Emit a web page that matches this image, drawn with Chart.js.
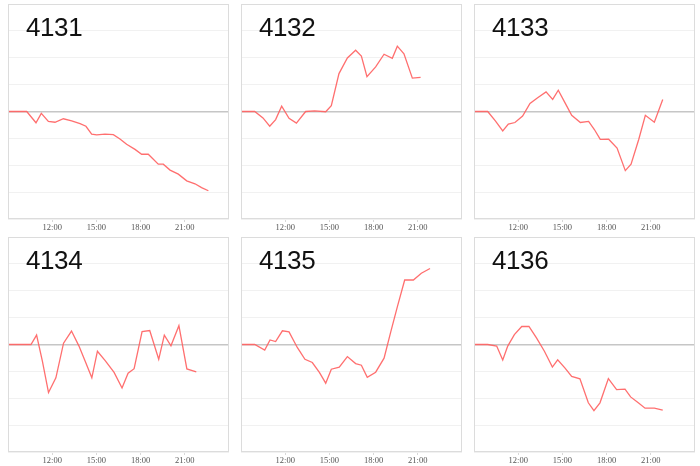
<!DOCTYPE html>
<html>
<head>
<meta charset="utf-8">
<script src="https://cdn.jsdelivr.net/npm/chart.js@4.4.0/dist/chart.umd.min.js"></script>
<style>
  body { margin: 0; background: #fff; }
  #wrap { position: relative; width: 700px; height: 466px; }
  .cell { position: absolute; width: 233px; height: 233px; }
  .cell canvas { position: absolute; left: 0; top: 0; }
  .ttl { position: absolute; left: 26px; top: 12px; font: 26px "Liberation Sans", Arial, sans-serif; letter-spacing: -0.4px; color: #111; pointer-events: none; }
</style>
</head>
<body>
<div id="wrap"></div>
<script>
// panel names
const codes = ['4131', '4132', '4133', '4134', '4135', '4136'];

// hour of day for each reading, and the reading
const t4131 = [9.0, 10.27, 10.9, 11.26, 11.74, 12.19, 12.76, 13.32, 13.89, 14.29, 14.68, 15.02, 15.58, 16.15, 16.6, 17.05, 17.62, 18.07, 18.52, 19.2, 19.54, 20.0, 20.56, 21.13, 21.69, 22.14, 22.6];
const v4131 = [0, 0, -0.42, -0.07, -0.37, -0.4, -0.27, -0.35, -0.45, -0.55, -0.84, -0.87, -0.84, -0.86, -1.02, -1.22, -1.41, -1.59, -1.59, -1.96, -1.96, -2.18, -2.33, -2.58, -2.69, -2.83, -2.95];

const t4132 = [9.0, 9.93, 10.49, 10.95, 11.35, 11.76, 12.26, 12.76, 13.39, 14.0, 14.75, 15.13, 15.65, 16.22, 16.78, 17.17, 17.55, 18.14, 18.71, 19.27, 19.61, 20.06, 20.63, 21.19];
const v4132 = [0, 0, -0.24, -0.55, -0.3, 0.2, -0.25, -0.43, 0, 0.02, -0.01, 0.22, 1.41, 1.99, 2.28, 2.06, 1.3, 1.66, 2.13, 1.98, 2.43, 2.15, 1.24, 1.27];

const t4133 = [9.0, 9.93, 10.45, 10.95, 11.33, 11.78, 12.3, 12.8, 13.32, 13.89, 14.34, 14.72, 15.18, 15.63, 16.22, 16.78, 17.17, 17.57, 18.14, 18.71, 19.27, 19.66, 20.18, 20.63, 21.24, 21.81];
const v4133 = [0, 0, -0.35, -0.72, -0.47, -0.41, -0.17, 0.3, 0.51, 0.73, 0.45, 0.79, 0.32, -0.14, -0.41, -0.37, -0.67, -1.04, -1.03, -1.36, -2.2, -1.96, -1.04, -0.14, -0.4, 0.45];

const t4134 = [9.0, 10.56, 10.94, 11.33, 11.75, 12.25, 12.77, 13.31, 13.81, 14.26, 14.69, 15.07, 15.61, 16.2, 16.74, 17.15, 17.56, 18.1, 18.62, 19.23, 19.61, 20.06, 20.6, 21.14, 21.78];
const v4134 = [0, 0, 0.35, -0.61, -1.79, -1.24, 0.05, 0.5, -0.05, -0.65, -1.24, -0.25, -0.61, -1.04, -1.62, -1.07, -0.9, 0.48, 0.52, -0.55, 0.35, -0.05, 0.7, -0.91, -1.02];

const t4135 = [9.0, 9.93, 10.61, 10.97, 11.35, 11.81, 12.26, 12.82, 13.34, 13.84, 14.32, 14.75, 15.13, 15.67, 16.22, 16.78, 17.17, 17.57, 18.14, 18.71, 19.16, 19.61, 20.11, 20.7, 21.24, 21.83];
const v4135 = [0, 0, -0.21, 0.17, 0.11, 0.51, 0.47, -0.11, -0.55, -0.67, -1.04, -1.44, -0.92, -0.84, -0.45, -0.71, -0.77, -1.22, -1.03, -0.51, 0.46, 1.4, 2.4, 2.4, 2.65, 2.83];

const t4136 = [9.0, 9.93, 10.54, 10.95, 11.29, 11.74, 12.24, 12.73, 13.25, 13.77, 14.32, 14.68, 15.18, 15.63, 16.19, 16.76, 17.14, 17.55, 18.12, 18.68, 19.25, 19.63, 20.15, 20.61, 21.24, 21.81];
const v4136 = [0, 0, -0.06, -0.58, -0.06, 0.37, 0.67, 0.67, 0.24, -0.24, -0.84, -0.57, -0.88, -1.19, -1.28, -2.17, -2.46, -2.17, -1.27, -1.68, -1.66, -1.95, -2.17, -2.37, -2.37, -2.44];

const allTimes = [t4131, t4132, t4133, t4134, t4135, t4136];
const allVals = [v4131, v4132, v4133, v4134, v4135, v4136];

const hourTicks = [12, 15, 18, 21];

// thin frame round the plot area
const frame = {
  id: 'frame',
  afterDraw(chart) {
    const a = chart.chartArea, ctx = chart.ctx;
    ctx.save();
    ctx.strokeStyle = '#dcdcdc';
    ctx.lineWidth = 1;
    ctx.strokeRect(a.left + 0.5, a.top + 0.5, a.right - a.left - 1, a.bottom - a.top - 1);
    ctx.restore();
  }
};

const wrap = document.getElementById('wrap');

codes.forEach((code, i) => {
  const cell = document.createElement('div');
  cell.className = 'cell';
  cell.style.left = (i % 3) * 233 + 'px';
  cell.style.top = Math.floor(i / 3) * 233 + 'px';
  const cv = document.createElement('canvas');
  cv.width = 233; cv.height = 233;
  cv.style.width = '233px'; cv.style.height = '233px';
  cell.appendChild(cv);
  const ttl = document.createElement('div');
  ttl.className = 'ttl';
  ttl.textContent = code;
  cell.appendChild(ttl);
  wrap.appendChild(cell);

  const pts = allTimes[i].map((t, k) => ({ x: t, y: allVals[i][k] }));

  new Chart(cv, {
    type: 'line',
    data: {
      datasets: [{
        data: pts,
        borderColor: 'rgba(255,95,95,0.9)',
        borderWidth: 1.3,
        pointRadius: 0,
        tension: 0,
        fill: false
      }]
    },
    options: {
      responsive: false,
      animation: false,
      layout: { padding: { left: 8, top: 4, right: 4, bottom: 0 } },
      plugins: { legend: { display: false }, tooltip: { enabled: false } },
      scales: {
        x: {
          type: 'linear',
          min: 9,
          max: 24,
          afterBuildTicks: s => { s.ticks = hourTicks.map(v => ({ value: v })); },
          afterFit: s => { s.height = 14; },
          ticks: {
            callback: v => v + ':00',
            color: '#555',
            padding: 1,
            maxRotation: 0,
            font: { family: '"Liberation Serif", serif', size: 8.5 }
          },
          grid: { drawOnChartArea: false, drawTicks: true, tickLength: 3, color: '#d8d8d8' },
          border: { display: false }
        },
        y: {
          min: -4,
          max: 4,
          afterFit: s => { s.width = 0; },
          ticks: { display: false, stepSize: 1 },
          grid: {
            drawTicks: false,
            color: c => c.tick && c.tick.value === 0 ? '#c6c6c6' : '#f1f1f1',
            lineWidth: c => c.tick && c.tick.value === 0 ? 1.5 : 1
          },
          border: { display: false }
        }
      }
    },
    plugins: [frame]
  });
});
</script>
</body>
</html>
